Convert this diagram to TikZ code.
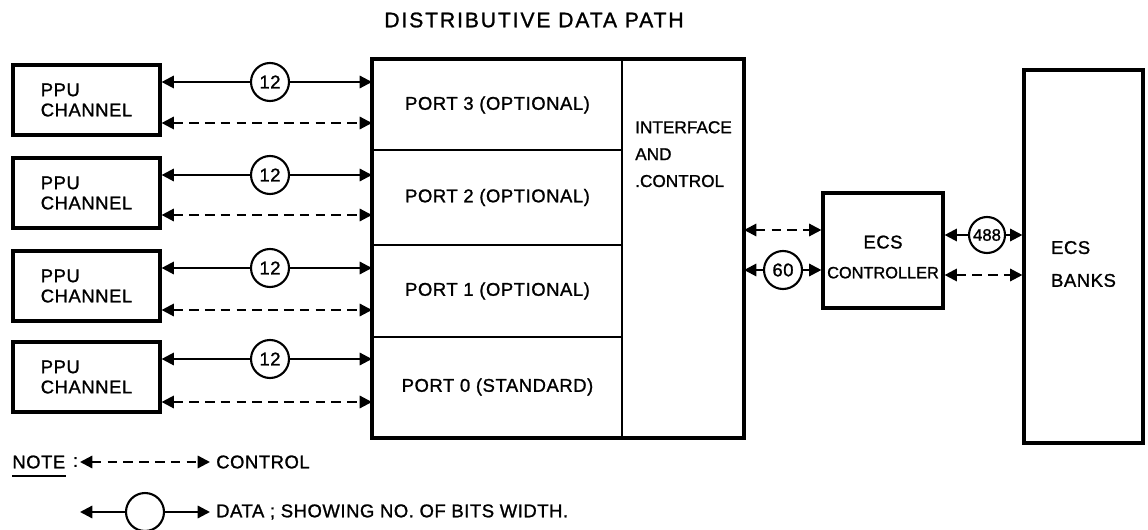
\documentclass[tikz,border=0pt]{standalone}
\usepackage{fontspec}
\setmainfont{Liberation Sans}[LetterSpace=3, FakeBold=1.2]
\usetikzlibrary{arrows.meta,calc}

\begin{document}
\begin{tikzpicture}[x=0.02cm, y=-0.02cm,
	font=\fontsize{10.5}{13}\selectfont,
	unit/.style={draw, line width=1.8pt, inner sep=0pt},
	ppu/.style={unit, minimum width=2.94cm, minimum height=1.4cm, align=left, font=\fontsize{10.5}{11.5}\selectfont},
	port/.style={draw, line width=1.2pt, minimum width=4.98cm, inner sep=0pt},
	bits/.style={draw, circle, line width=1.2pt, minimum size=0.76cm, inner sep=0pt},
	data/.style={line width=1.3pt, -{Triangle[length=7pt,width=7pt]}},
	ctrl/.style={line width=1.3pt, dash pattern=on 5.5pt off 3.5pt, {Triangle[length=7pt,width=7pt]}-{Triangle[length=7pt,width=7pt]}}
	]
	\useasboundingbox (0,0) rectangle (1148,530);
	
	\node (title) at (534,20) {\fontsize{12}{14}\selectfont\addfontfeature{LetterSpace=9}DISTRIBUTIVE DATA PATH};
	
	% ppu channels
	\node[ppu] (ppu3) at (86.5,100) {PPU\\CHANNEL};
	\node[ppu] (ppu2) at (86.5,193) {PPU\\CHANNEL};
	\node[ppu] (ppu1) at (86.5,286) {PPU\\CHANNEL};
	\node[ppu] (ppu0) at (86.5,377) {PPU\\CHANNEL};
	
	% ports and interface
	\node[port, minimum height=1.8cm] (port3) at (497.5,105) {PORT 3 (OPTIONAL)};
	\node[port, minimum height=1.9cm] (port2) at (497.5,197.5) {PORT 2 (OPTIONAL)};
	\node[port, minimum height=1.84cm] (port1) at (497.5,291) {PORT 1 (OPTIONAL)};
	\node[port, minimum height=2cm] (port0) at (497.5,387) {PORT 0 (STANDARD)};
	\node[draw, line width=1.2pt, minimum width=2.42cm, minimum height=7.54cm] (ifc) at (682.5,248.5) {};
	\draw[line width=1.8pt] (port0.south west) rectangle (ifc.north east);
	\node[anchor=north west, align=left, font=\fontsize{9.8}{15.3}\selectfont\addfontfeature{LetterSpace=0}] (ifctxt) at (629,115) {INTERFACE\\AND\\.CONTROL};
	
	% ecs
	\node[unit, minimum width=2.4cm, minimum height=2.3cm] (ctl) at (883,250.5) {};
	\node[align=center, font=\fontsize{10.5}{17}\selectfont] (ctltxt) at (883,257) {ECS\\{\fontsize{9.3}{17}\selectfont\addfontfeature{LetterSpace=0}CONTROLLER}};
	\node[unit, minimum width=2.38cm, minimum height=7.46cm] (banks) at (1083.5,256.5) {};
	\node[align=left, font=\fontsize{10.5}{18.7}\selectfont] (bankstxt) at (1083.5,264) {ECS\\BANKS};
	
	% ppu to ports
	\node[bits] (b3) at (270,82) {12};
	\draw[data] (b3) -- (b3 -| ppu3.east);
	\draw[data] (b3) -- (b3 -| port3.west);
	\coordinate (c3) at ($(ppu3.east)+(0,23)$);
	\draw[ctrl] (c3) -- (c3 -| port3.west);
	
	\node[bits] (b2) at (270,175) {12};
	\draw[data] (b2) -- (b2 -| ppu2.east);
	\draw[data] (b2) -- (b2 -| port2.west);
	\coordinate (c2) at ($(ppu2.east)+(0,22)$);
	\draw[ctrl] (c2) -- (c2 -| port2.west);
	
	\node[bits] (b1) at (270,268) {12};
	\draw[data] (b1) -- (b1 -| ppu1.east);
	\draw[data] (b1) -- (b1 -| port1.west);
	\coordinate (c1) at ($(ppu1.east)+(0,24)$);
	\draw[ctrl] (c1) -- (c1 -| port1.west);
	
	\node[bits] (b0) at (270,359) {12};
	\draw[data] (b0) -- (b0 -| ppu0.east);
	\draw[data] (b0) -- (b0 -| port0.west);
	\coordinate (c0) at ($(ppu0.east)+(0,25)$);
	\draw[ctrl] (c0) -- (c0 -| port0.west);
	
	% interface to controller to banks
	\coordinate (k1) at ($(ctl.west)+(0,-20.5)$);
	\draw[ctrl] (k1 -| ifc.east) -- (k1);
	\node[bits] (b60) at (783,270) {60};
	\draw[data] (b60) -- (b60 -| ifc.east);
	\draw[data] (b60) -- (b60 -| ctl.west);
	\node[bits, minimum size=0.72cm, font=\fontsize{9.5}{11}\selectfont\addfontfeature{LetterSpace=0}] (b488) at (987,235) {488};
	\draw[data] (b488) -- (b488 -| ctl.east);
	\draw[data] (b488) -- (b488 -| banks.west);
	\coordinate (k2) at ($(ctl.east)+(0,24.5)$);
	\draw[ctrl] (k2) -- (k2 -| banks.west);
	
	% note
	\node[anchor=west, inner sep=0pt] (note) at (12,462) {NOTE};
	\node[anchor=west, inner sep=4pt] (colon) at (note.east) {:};
	\draw[line width=1.2pt] ([yshift=-4pt]note.south west) -- ([yshift=-4pt]note.south east);
	\coordinate (k3) at (80,462);
	\node[anchor=west] (ctrlkey) at (210,462) {CONTROL};
	\draw[ctrl] (k3) -- (k3 -| ctrlkey.west);
	\coordinate (k4) at (80,512);
	\node[bits] (key) at (145,512) {};
	\node[anchor=west] (datakey) at (210,512) {DATA ; SHOWING NO. OF BITS WIDTH.};
	\draw[data] (key) -- (k4);
	\draw[data] (key) -- (key -| datakey.west);
\end{tikzpicture}
\end{document}
